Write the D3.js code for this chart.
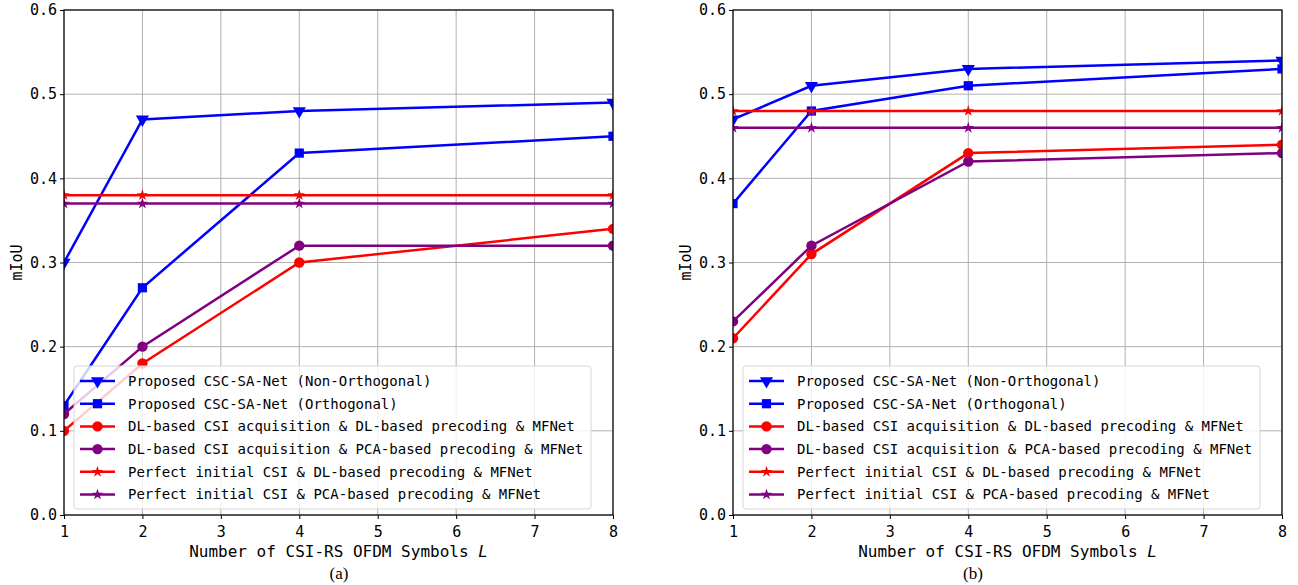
<!DOCTYPE html>
<html>
<head>
<meta charset="utf-8">
<script src="https://cdn.jsdelivr.net/npm/d3@7"></script>
<style>
  body { margin: 0; background: #fff; }
  text { font-family: "DejaVu Sans Mono", monospace; }
</style>
</head>
<body>
<script>
// x values (number of CSI-RS OFDM symbols)
var symbols = [1, 2, 4, 8];
var xTicks = [1, 2, 3, 4, 5, 6, 7, 8];
var yTicks = [0.0, 0.1, 0.2, 0.3, 0.4, 0.5, 0.6];

var seriesNames = [
  "Proposed CSC-SA-Net (Non-Orthogonal)",
  "Proposed CSC-SA-Net (Orthogonal)",
  "DL-based CSI acquisition & DL-based precoding & MFNet",
  "DL-based CSI acquisition & PCA-based precoding & MFNet",
  "Perfect initial CSI & DL-based precoding & MFNet",
  "Perfect initial CSI & PCA-based precoding & MFNet"
];
var seriesColors = ["#0000ff", "#0000ff", "#ff0000", "#800080", "#ff0000", "#800080"];
var seriesMarkers = ["triDown", "square", "circle", "circle", "star", "star"];

// panel (a)
var aNonOrth = [0.30, 0.47, 0.48, 0.49];
var aOrth    = [0.13, 0.27, 0.43, 0.45];
var aDLDL    = [0.10, 0.18, 0.30, 0.34];
var aDLPCA   = [0.12, 0.20, 0.32, 0.32];
var aPerfDL  = [0.38, 0.38, 0.38, 0.38];
var aPerfPCA = [0.37, 0.37, 0.37, 0.37];

// panel (b)
var bNonOrth = [0.47, 0.51, 0.53, 0.54];
var bOrth    = [0.37, 0.48, 0.51, 0.53];
var bDLDL    = [0.21, 0.31, 0.43, 0.44];
var bDLPCA   = [0.23, 0.32, 0.42, 0.43];
var bPerfDL  = [0.48, 0.48, 0.48, 0.48];
var bPerfPCA = [0.46, 0.46, 0.46, 0.46];

var svg = d3.select("body").append("svg")
    .attr("width", 1298)
    .attr("height", 585);

var symbolFor = function(m) {
  if (m == "square") return d3.symbol().type(d3.symbolSquare).size(85)();
  if (m == "circle") return d3.symbol().type(d3.symbolCircle).size(85)();
  if (m == "star") return d3.symbol().type(d3.symbolStar).size(40)();
  return d3.symbol().type(d3.symbolTriangle).size(75)();
};
var markerRot = function(m) { return m == "triDown" ? " rotate(180)" : ""; };

function drawPanel(id, left, series, caption, captionX) {
  var top = 10, bottom = 515, right = left + 549;
  var x = d3.scaleLinear().domain([1, 8]).range([left, right]);
  var y = d3.scaleLinear().domain([0, 0.6]).range([bottom, top]);
  var g = svg.append("g");

  // grid
  g.selectAll(".gx").data(xTicks).enter().append("line")
    .attr("x1", d => x(d)).attr("x2", d => x(d))
    .attr("y1", top).attr("y2", bottom)
    .attr("stroke", "#b0b0b0").attr("stroke-width", 1);
  g.selectAll(".gy").data(yTicks).enter().append("line")
    .attr("x1", left).attr("x2", right)
    .attr("y1", d => y(d)).attr("y2", d => y(d))
    .attr("stroke", "#b0b0b0").attr("stroke-width", 1);

  // clip for the lines + markers
  svg.append("clipPath").attr("id", "clip" + id)
    .append("rect").attr("x", left).attr("y", top)
    .attr("width", right - left).attr("height", bottom - top);

  var plot = g.append("g").attr("clip-path", "url(#clip" + id + ")");
  var line = d3.line().x((d, i) => x(symbols[i])).y(d => y(d));

  series.forEach(function(vals, k) {
    plot.append("path").datum(vals)
      .attr("d", line)
      .attr("fill", "none")
      .attr("stroke", seriesColors[k])
      .attr("stroke-width", 2.5);
    plot.selectAll(".m" + k).data(vals).enter().append("path")
      .attr("d", symbolFor(seriesMarkers[k]))
      .attr("transform", (d, i) => "translate(" + x(symbols[i]) + "," + y(d) + ")" + markerRot(seriesMarkers[k]))
      .attr("fill", seriesColors[k]);
  });

  // axes
  var xAxis = d3.axisBottom(x).tickValues(xTicks).tickSize(4).tickFormat(d3.format("d"));
  var yAxis = d3.axisLeft(y).tickValues(yTicks).tickSize(4).tickFormat(d3.format(".1f"));
  var gx = g.append("g").attr("transform", "translate(0," + bottom + ")").call(xAxis);
  var gy = g.append("g").attr("transform", "translate(" + left + ",0)").call(yAxis);
  [gx, gy].forEach(function(a) {
    a.attr("font-family", null);
    a.select(".domain").remove();
    a.selectAll("text").attr("font-size", 15).attr("fill", "#000")
      .style("font-family", "'DejaVu Sans Mono', monospace");
    a.selectAll("line").attr("stroke", "#000");
  });
  gx.selectAll("text").attr("dy", "1.0em");
  gy.selectAll("text").attr("x", -7);

  // frame
  g.append("rect").attr("x", left).attr("y", top)
    .attr("width", right - left).attr("height", bottom - top)
    .attr("fill", "none").attr("stroke", "#000").attr("stroke-width", 1.2);

  // axis labels
  var xl = g.append("text")
    .attr("x", (left + right) / 2).attr("y", 557)
    .attr("text-anchor", "middle").attr("font-size", 16);
  xl.append("tspan").text("Number of CSI-RS OFDM Symbols ");
  xl.append("tspan").attr("font-style", "italic").text("L");

  g.append("text")
    .attr("transform", "translate(" + (left - 42) + "," + ((top + bottom) / 2) + ") rotate(-90)")
    .attr("text-anchor", "middle").attr("font-size", 15).text("mIoU");

  g.append("text")
    .attr("x", captionX).attr("y", 579)
    .attr("text-anchor", "middle")
    .style("font-family", "'Liberation Serif', 'Times New Roman', serif")
    .attr("font-size", 17).text(caption);

  // legend
  var lx = left + 10, ly = 366;
  var lg = g.append("g");
  lg.append("rect").attr("x", lx).attr("y", ly)
    .attr("width", 517).attr("height", 143).attr("rx", 3)
    .attr("fill", "#fff").attr("fill-opacity", 0.8)
    .attr("stroke", "#d6d6d6").attr("stroke-width", 1);
  seriesNames.forEach(function(name, k) {
    var ry = ly + 15 + k * 22.7;
    lg.append("line").attr("x1", lx + 6).attr("x2", lx + 41)
      .attr("y1", ry).attr("y2", ry)
      .attr("stroke", seriesColors[k]).attr("stroke-width", 2.5);
    lg.append("path").attr("d", symbolFor(seriesMarkers[k]))
      .attr("transform", "translate(" + (lx + 23.5) + "," + ry + ")" + markerRot(seriesMarkers[k]))
      .attr("fill", seriesColors[k]);
    lg.append("text").attr("x", lx + 54).attr("y", ry).attr("dy", "0.35em")
      .attr("font-size", 14).text(name);
  });
}

drawPanel("a", 64, [aNonOrth, aOrth, aDLDL, aDLPCA, aPerfDL, aPerfPCA], "(a)", 339);
drawPanel("b", 733, [bNonOrth, bOrth, bDLDL, bDLPCA, bPerfDL, bPerfPCA], "(b)", 973);
</script>
</body>
</html>
